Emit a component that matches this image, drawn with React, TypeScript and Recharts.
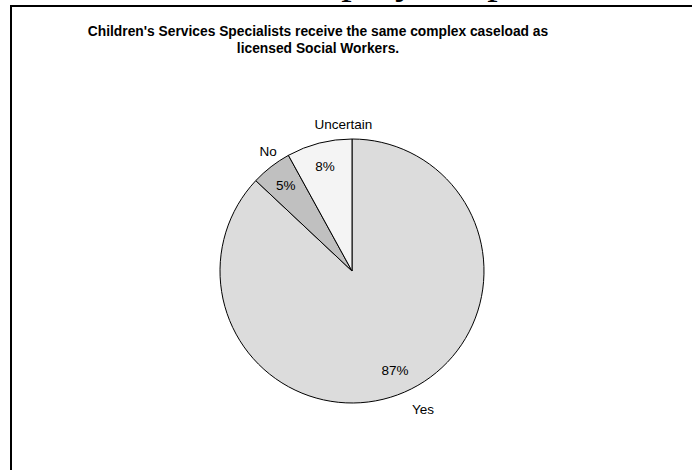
import React from "react";
import { PieChart, Pie, Cell } from "recharts";

const categories = ["Yes", "No", "Uncertain"];
const values = [87, 5, 8];
const colors = ["#dcdcdc", "#c0c0c0", "#f4f4f4"];
const titleLines = [
  "Children's Services Specialists receive the same complex caseload as",
  "licensed Social Workers.",
];
const clippedHeading = "Employee Specialist";

const data = categories.map((name, i) => ({ name, value: values[i] }));

const RADIAN = Math.PI / 180;
const FONT = "Arial, 'Liberation Sans', Helvetica, sans-serif";

const renderLabel = (props: any) => {
  const { cx, cy, midAngle, outerRadius, percent, name } = props;
  const cos = Math.cos(-midAngle * RADIAN);
  const sin = Math.sin(-midAngle * RADIAN);
  const rIn = outerRadius * 0.82;
  const rOut = outerRadius + 19;
  const xi = cx + rIn * cos;
  const yi = cy + rIn * sin;
  const xo = cx + rOut * cos;
  const yo = cy + rOut * sin;
  return (
    <g>
      <text
        x={xi}
        y={yi}
        textAnchor="middle"
        dominantBaseline="central"
        fontFamily={FONT}
        fontSize={13.5}
        fill="#000"
      >
        {`${Math.round(percent * 100)}%`}
      </text>
      <text
        x={xo}
        y={yo}
        textAnchor="start"
        dominantBaseline="central"
        fontFamily={FONT}
        fontSize={13.5}
        fill="#000"
      >
        {name}
      </text>
    </g>
  );
};

export default function App() {
  return (
    <div
      style={{
        position: "absolute",
        left: 0,
        top: 0,
        width: 692,
        height: 470,
        background: "#fff",
        overflow: "hidden",
      }}
    >
      <svg
        width={692}
        height={470}
        style={{ position: "absolute", left: 0, top: 0 }}
      >
        <text
          x={283}
          y={-7}
          fontFamily="'Liberation Serif', 'Times New Roman', serif"
          fontSize={42}
          fill="#000"
        >
          {clippedHeading}
        </text>
      </svg>
      <div
        style={{
          position: "absolute",
          left: 10,
          top: 5,
          width: 700,
          height: 480,
          borderLeft: "2px solid #000",
          borderTop: "2px solid #000",
        }}
      />
      <div style={{ position: "absolute", left: 0, top: 0 }}>
        <PieChart
          width={692}
          height={470}
          margin={{ top: 0, right: 0, bottom: 0, left: 0 }}
        >
          <text
            x={318}
            y={31}
            textAnchor="middle"
            dominantBaseline="central"
            fontFamily={FONT}
            fontSize={13.8}
            fontWeight="bold"
            fill="#000"
          >
            {titleLines[0]}
          </text>
          <text
            x={318}
            y={48}
            textAnchor="middle"
            dominantBaseline="central"
            fontFamily={FONT}
            fontSize={13.8}
            fontWeight="bold"
            fill="#000"
          >
            {titleLines[1]}
          </text>
          <Pie
            data={data}
            dataKey="value"
            nameKey="name"
            cx={352}
            cy={271}
            outerRadius={132}
            startAngle={90}
            endAngle={-270}
            stroke="#000"
            strokeWidth={1}
            label={renderLabel}
            labelLine={false}
            isAnimationActive={false}
          >
            {data.map((d, i) => (
              <Cell key={d.name} fill={colors[i]} />
            ))}
          </Pie>
        </PieChart>
      </div>
    </div>
  );
}
